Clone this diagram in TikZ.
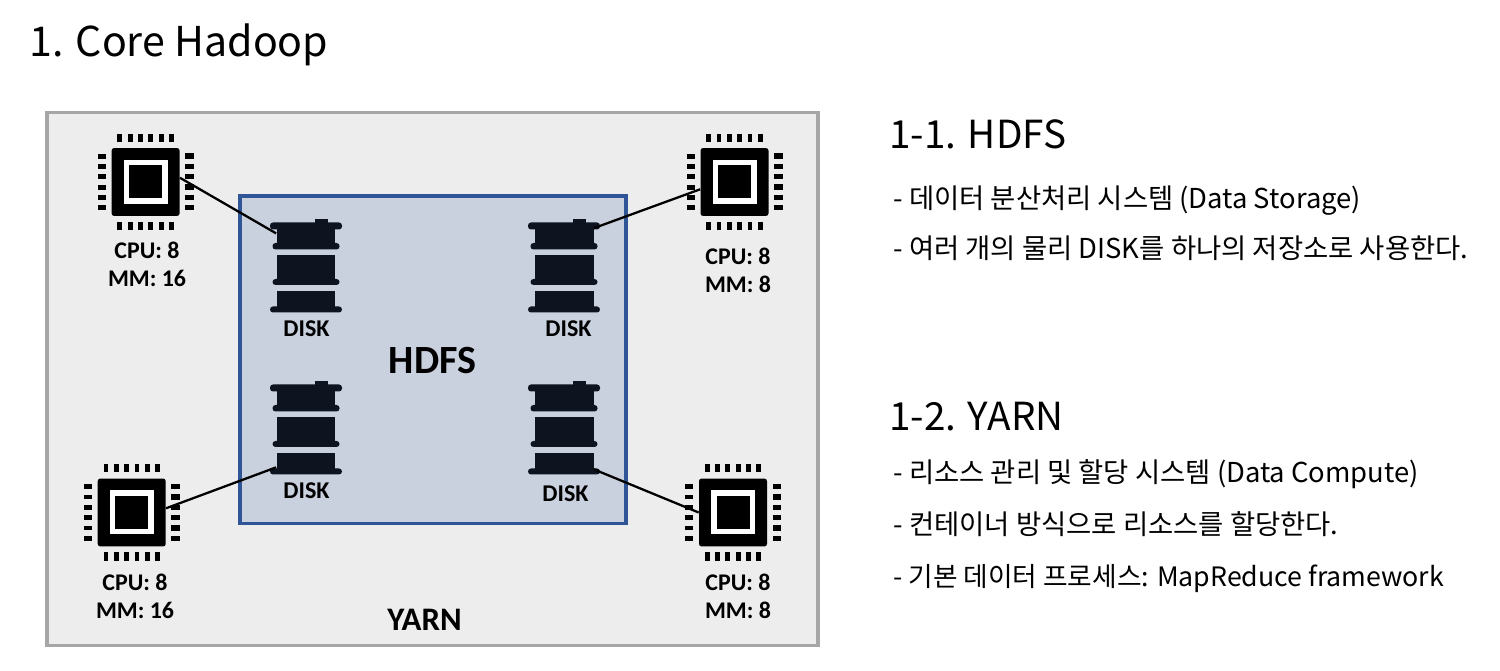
\documentclass[tikz,border=0pt]{standalone}
\usepackage{fontspec}
\setmainfont{Noto Sans CJK KR}
\newfontfamily\labelfont{Carlito}
\definecolor{yarnfill}{HTML}{EDEDED}
\definecolor{yarnline}{HTML}{A6A6A6}
\definecolor{hdfsfill}{HTML}{C9D0DE}
\definecolor{hdfsline}{HTML}{2F5597}
\definecolor{diskcol}{HTML}{0D1420}
\tikzset{
  chipin/.style={fill=black,inner sep=0pt,minimum size=1.36cm,rounded corners=1.5pt},
  barrel/.style={fill=diskcol,inner sep=0pt,minimum width=1.18cm},
  rim/.style={fill=diskcol,rounded corners=1.7pt},
  cpulabel/.style={font=\labelfont\bfseries\fontsize{13.6}{16}\selectfont,align=center},
  disklabel/.style={font=\labelfont\bfseries\fontsize{13.7}{16}\selectfont},
  heading/.style={anchor=base west,inner sep=0pt,font=\fontsize{22}{26}\selectfont},
  item/.style={anchor=base west,inner sep=0pt,font=\fontsize{15.6}{18}\selectfont},
  link/.style={line width=1.3pt,black},
  chip/.pic={
    \foreach \i in {-25.8,-15.5,-5.2,5.2,15.5,25.8} {
      \fill[black] (\i-2.4,-48) rectangle (\i+2.4,-40);
      \fill[black] (\i-2.4,40) rectangle (\i+2.4,48);
      \fill[black] (-48,\i-2.4) rectangle (-40,\i+2.4);
      \fill[black] (39.5,\i-2.7) rectangle (48,\i+2.7);
    }
    \node[chipin] (-body) at (0,0) {};
    \fill[white] (-22,-22) rectangle (22,22);
    \fill[black] (-16.5,-16.5) rectangle (16.5,16.5);
  },
  disk/.pic={
    \fill[diskcol] (9,-47) rectangle (22,-42);
    \fill[rim] (-36,-43.5) rectangle (36,-36.5);
    \node[barrel,minimum height=0.3cm] (-top) at (0,-30) {};
    \fill[rim] (-33.5,-23) rectangle (33.5,-16.5);
    \node[barrel,minimum height=0.48cm] (-mid) at (0,1) {};
    \fill[rim] (-33.5,13) rectangle (33.5,19);
    \node[barrel,minimum height=0.32cm] (-low) at (0,33) {};
    \fill[rim] (-36,40.5) rectangle (36,46.5);
  }
}
\begin{document}
\begin{tikzpicture}[x=0.02cm,y=-0.02cm]
  \useasboundingbox (0,0) rectangle (1500,671);
  \node[heading,font=\fontsize{23.4}{28}\selectfont] (title) at (29,56.5) {1. Core Hadoop};

  \node[draw=yarnline,fill=yarnfill,line width=2.2pt,minimum width=15.42cm,minimum height=10.66cm,inner sep=0pt] (yarn) at (432.5,379) {};
  \node[draw=hdfsline,fill=hdfsfill,line width=2.2pt,minimum width=7.726cm,minimum height=6.544cm,inner sep=0pt] (hdfs) at (432.8,360) {};
  \node[font=\labelfont\bfseries\fontsize{22.8}{24}\selectfont] (hdfsname) at (432.5,361) {HDFS};
  \node[font=\labelfont\bfseries\fontsize{18.7}{20}\selectfont] (yarnname) at (424.5,620) {YARN};

  \pic (cpuA) at (145.6,182) {chip};
  \pic (cpuB) at (734.5,182) {chip};
  \pic (cpuC) at (131.7,512.5) {chip};
  \pic (cpuD) at (733,512.5) {chip};
  \pic (diskA) at (306,266) {disk};
  \pic (diskB) at (564,266) {disk};
  \pic (diskC) at (306,428) {disk};
  \pic (diskD) at (564,428) {disk};

  \node[disklabel] (nameA) at (306.5,329) {DISK};
  \node[disklabel] (nameB) at (568.5,329) {DISK};
  \node[disklabel] (nameC) at (306.5,491) {DISK};
  \node[disklabel] (nameD) at (565.5,494) {DISK};

  \node[cpulabel] (memA) at (147,264) {CPU: 8\\MM: 16};
  \node[cpulabel] (memB) at (738,270) {CPU: 8\\MM: 8};
  \node[cpulabel] (memC) at (135,596) {CPU: 8\\MM: 16};
  \node[cpulabel] (memD) at (738,596) {CPU: 8\\MM: 8};

  \draw[link] (cpuA-body.7) -- (diskA-top.175);
  \draw[link] (cpuB-body.192) -- (diskB-top.north east);
  \draw[link] (cpuC-body.7) -- (diskC-low.192);
  \draw[link] (cpuD-body.west) -- (diskD-low.south east);

  \node[heading] (hdfshead) at (889,148.5) {1-1. HDFS};
  \node[item] (hdfsA) at (893,208.5) {- 데이터 분산처리 시스템 (Data Storage)};
  \node[item] (hdfsB) at (893,258.5) {- 여러 개의 물리 DISK를 하나의 저장소로 사용한다.};
  \node[heading] (yarnhead) at (889,430.5) {1-2. YARN};
  \node[item] (yarnA) at (893,482.5) {- 리소스 관리 및 할당 시스템 (Data Compute)};
  \node[item] (yarnB) at (893,534.5) {- 컨테이너 방식으로 리소스를 할당한다.};
  \node[item,font=\fontsize{15.2}{18}\selectfont] (yarnC) at (893,586.5) {- 기본 데이터 프로세스: MapReduce framework};
\end{tikzpicture}
\end{document}
